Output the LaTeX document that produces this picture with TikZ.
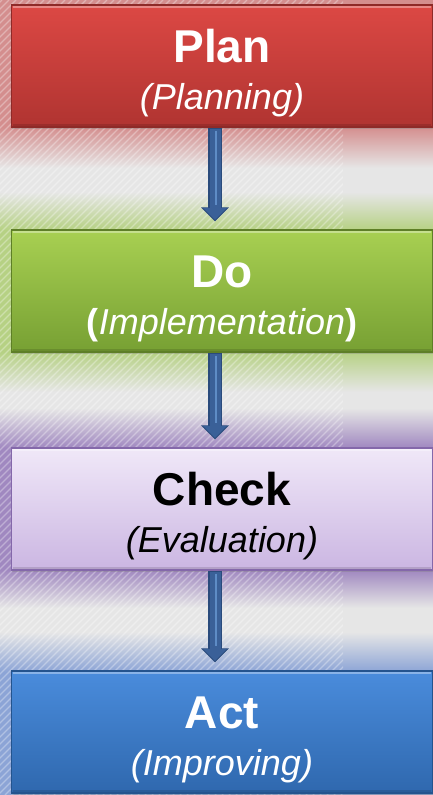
\documentclass[tikz,border=0pt]{standalone}
\usepackage{fontspec}
\setmainfont{Liberation Sans}
\usetikzlibrary{arrows.meta,shadows}
\definecolor{bggray}{HTML}{E6E6E6}
\definecolor{redglow}{HTML}{D48E8E}
\definecolor{greenglow}{HTML}{B6D184}
\definecolor{purpleglow}{HTML}{A088C0}
\definecolor{blueglow}{HTML}{8CA4D6}
\definecolor{redtop}{HTML}{DC4844}
\definecolor{redbot}{HTML}{B03431}
\definecolor{redline}{HTML}{8E2A28}
\definecolor{greentop}{HTML}{A8D052}
\definecolor{greenbot}{HTML}{77A033}
\definecolor{greenline}{HTML}{5E7F27}
\definecolor{purpletop}{HTML}{F0E8F8}
\definecolor{purplebot}{HTML}{CBB6E2}
\definecolor{purpleline}{HTML}{8468AA}
\definecolor{bluetop}{HTML}{4A8CDC}
\definecolor{bluebot}{HTML}{2F68AE}
\definecolor{blueline}{HTML}{24548E}
\definecolor{arrowfill}{HTML}{3A6098}
\definecolor{arrowline}{HTML}{2A4B7C}
\definecolor{arrowhi}{HTML}{5E8CC6}
\tikzset{
  stagebox/.style={draw, line width=1.2pt, minimum width=421pt, minimum height=122pt,
    inner sep=0pt, drop shadow={opacity=0.35, shadow xshift=0pt, shadow yshift=-2pt}},
  titletext/.style={anchor=base, font=\fontsize{46}{50}\selectfont\bfseries},
  subtext/.style={anchor=base, font=\fontsize{36}{40}\selectfont},
  flowarrow/.style={line width=14pt, arrowline, shorten >=8pt,
    -{Triangle[width=27pt,length=14pt]}},
  flowinner/.style={line width=11pt, arrowfill, shorten >=9.5pt, shorten <=1pt,
    -{Triangle[width=23pt,length=12pt]}},
}
\begin{document}
\begin{tikzpicture}[x=1pt,y=-1pt]
\useasboundingbox (0,0) rectangle (433,795);
% background
\fill[bggray] (0,0) rectangle (433,795);
% glows
\fill[redglow] (0,0) rectangle (433,127);
\shade[top color=redglow, bottom color=bggray] (0,127) rectangle (433,168);
\shade[top color=bggray, bottom color=greenglow] (0,192) rectangle (433,230);
\fill[greenglow] (0,230) rectangle (433,352);
\shade[top color=greenglow, bottom color=bggray] (0,352) rectangle (433,392);
\shade[top color=bggray, bottom color=purpleglow] (0,408) rectangle (433,448);
\fill[purpleglow] (0,448) rectangle (433,570);
\shade[top color=purpleglow, bottom color=bggray] (0,570) rectangle (433,608);
\shade[top color=bggray, bottom color=blueglow] (0,632) rectangle (433,672);
\fill[blueglow] (0,672) rectangle (433,795);
% hatch
\begin{scope}
\clip (0,0) rectangle (343,795);
\foreach \i in {-800,-793,...,343}{
  \draw[white, opacity=0.32, line width=1.2pt] (\i,795) -- (\i+795,0);
}
\end{scope}
% boxes
\node[stagebox, draw=redline, top color=redtop, bottom color=redbot] (plan) at (222,66) {};
\node[stagebox, draw=greenline, top color=greentop, bottom color=greenbot] (do) at (222,291) {};
\node[stagebox, draw=purpleline, top color=purpletop, bottom color=purplebot] (check) at (222,509) {};
\node[stagebox, draw=blueline, top color=bluetop, bottom color=bluebot] (act) at (222,732) {};
% bevel highlights
\foreach \b in {plan,do,check,act}{
  \draw[white, opacity=0.35, line width=2.5pt] ([xshift=2pt,yshift=-2.5pt]\b.north west) -- ([xshift=-2pt,yshift=-2.5pt]\b.north east);
  \draw[black, opacity=0.12, line width=2.5pt] ([xshift=2pt,yshift=2.5pt]\b.south west) -- ([xshift=-2pt,yshift=2.5pt]\b.south east);
}
% texts
\node[titletext, white] (plant) at ([yshift=-58pt]plan.north) {Plan};
\node[subtext, white] (plans) at ([yshift=-105pt]plan.north) {\itshape (Planning)};
\node[titletext, white] (dot) at ([yshift=-58pt]do.north) {Do};
\node[subtext, white] (dos) at ([yshift=-105pt]do.north) {\textbf{(}\textit{Implementation}\textbf{)}};
\node[titletext, black] (checkt) at ([yshift=-58pt]check.north) {Check};
\node[subtext, black] (checks) at ([yshift=-105pt]check.north) {\itshape (Evaluation)};
\node[titletext, white] (actt) at ([yshift=-58pt]act.north) {Act};
\node[subtext, white] (acts) at ([yshift=-105pt]act.north) {\itshape (Improving)};
% arrows
\foreach \a/\b in {plan/do,do/check,check/act}{
  \draw[flowarrow] ([xshift=-7pt]\a.south) -- ([xshift=-7pt]\b.north);
  \draw[flowinner] ([xshift=-7pt]\a.south) -- ([xshift=-7pt]\b.north);
  \draw[arrowhi, line width=2pt, shorten >=24pt, shorten <=3pt] ([xshift=-6pt]\a.south) -- ([xshift=-6pt]\b.north);
}
\end{tikzpicture}
\end{document}
